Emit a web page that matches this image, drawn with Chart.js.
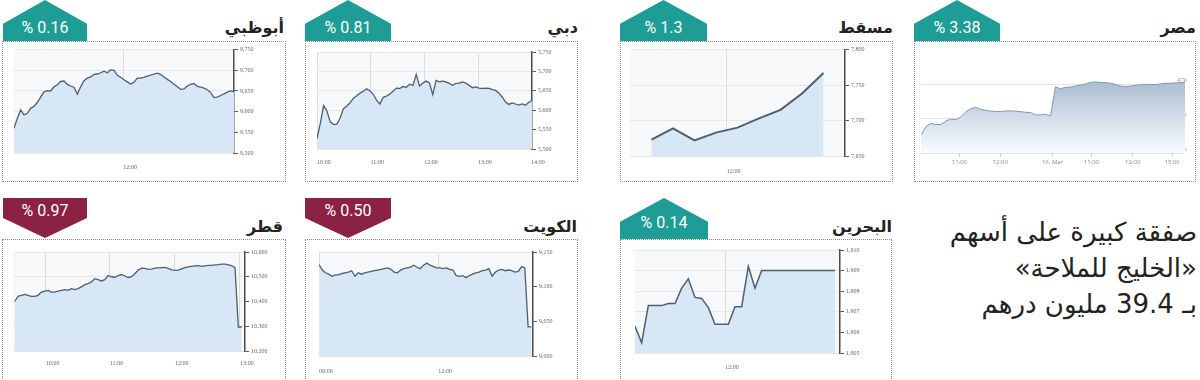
<!DOCTYPE html>
<html lang="ar">
<head>
<meta charset="UTF-8" />
<title>أسواق الخليج</title>
<script src="https://cdn.jsdelivr.net/npm/chart.js@4.4.1/dist/chart.umd.min.js"></script>
<style>
  body { margin: 0; width: 1200px; height: 380px; position: relative; overflow: hidden; background: #fff; font-family: "DejaVu Sans", sans-serif; }
  .box { position: absolute; border: 1px dotted #8a8a8a; box-sizing: border-box; }
  .badge { position: absolute; color: #fff; font-family: Roboto, sans-serif; font-size: 16px; }
  .badge span { position: absolute; left: 0; right: 0; text-align: center; line-height: 22px; }
  .up { background: #1d9d95; clip-path: polygon(0 58%, 50% 0, 100% 58%, 100% 100%, 0 100%); }
  .down { background: #8b2143; clip-path: polygon(0 0, 100% 0, 100% 50%, 50% 100%, 0 50%); }
  .title { position: absolute; font-weight: bold; font-size: 16px; line-height: 24px; color: #222; direction: rtl; }
  canvas { position: absolute; }
  .note { position: absolute; right: 3px; top: 214px; font-size: 26px; line-height: 36px; color: #222; direction: rtl; text-align: right; white-space: nowrap; }
</style>
</head>
<body>
  <!-- top row -->
  <div class="box" style="left:2px;top:41px;width:284px;height:141px"></div>
  <div class="badge up" style="left:3px;top:0;width:84px;height:41px"><span style="top:17px">% 0.16</span></div>
  <div class="title" style="right:916px;top:16px">أبوظبي</div>
  <canvas id="abuDhabi" width="276" height="136" style="left:4px;top:44px"></canvas>

  <div class="box" style="left:305px;top:41px;width:273px;height:141px"></div>
  <div class="badge up" style="left:305px;top:0;width:86px;height:41px"><span style="top:17px">% 0.81</span></div>
  <div class="title" style="right:622px;top:16px">دبي</div>
  <canvas id="dubai" width="268" height="130" style="left:307px;top:44px"></canvas>

  <div class="box" style="left:620px;top:41px;width:273px;height:141px"></div>
  <div class="badge up" style="left:620px;top:0;width:87px;height:41px"><span style="top:17px">% 1.3</span></div>
  <div class="title" style="right:307px;top:16px">مسقط</div>
  <canvas id="muscat" width="268" height="138" style="left:622px;top:44px"></canvas>

  <div class="box" style="left:914px;top:41px;width:282px;height:141px"></div>
  <div class="badge up" style="left:914px;top:0;width:86px;height:41px"><span style="top:17px">% 3.38</span></div>
  <div class="title" style="right:4px;top:16px">مصر</div>
  <canvas id="egypt" width="278" height="136" style="left:916px;top:44px"></canvas>

  <!-- bottom row -->
  <div class="box" style="left:2px;top:239px;width:284px;height:150px"></div>
  <div class="badge down" style="left:3px;top:198px;width:84px;height:40px"><span style="top:2px">% 0.97</span></div>
  <div class="title" style="right:917px;top:215px">قطر</div>
  <canvas id="qatar" width="278" height="134" style="left:4px;top:244px"></canvas>

  <div class="box" style="left:305px;top:239px;width:273px;height:150px"></div>
  <div class="badge down" style="left:305px;top:198px;width:86px;height:40px"><span style="top:2px">% 0.50</span></div>
  <div class="title" style="right:623px;top:215px">الكويت</div>
  <canvas id="kuwait" width="268" height="134" style="left:307px;top:244px"></canvas>

  <div class="box" style="left:620px;top:239px;width:272px;height:150px"></div>
  <div class="badge up" style="left:620px;top:198px;width:88px;height:41px"><span style="top:14px">% 0.14</span></div>
  <div class="title" style="right:308px;top:215px">البحرين</div>
  <canvas id="bahrain" width="268" height="134" style="left:622px;top:244px"></canvas>

  <div class="note">
    <div>صفقة كبيرة على أسهم</div>
    <div>«الخليج للملاحة»</div>
    <div>بـ 39.4 مليون درهم</div>
  </div>

<script>
  // index values
  const abuDhabiValues = [9560, 9584, 9604, 9592, 9596, 9608, 9613, 9622, 9635, 9648,
    9651, 9650, 9660, 9665, 9673, 9674, 9666, 9662, 9659, 9642,
    9660, 9675, 9681, 9684, 9690, 9691, 9694, 9698, 9694, 9701,
    9700, 9688, 9683, 9677, 9672, 9667, 9671, 9681, 9681, 9683,
    9686, 9688, 9691, 9693, 9690, 9684, 9678, 9673, 9666, 9660,
    9654, 9655, 9662, 9666, 9668, 9661, 9659, 9657, 9653, 9646,
    9634, 9635, 9639, 9643, 9647, 9650, 9648];
  const abuDhabiTicks = [9500, 9550, 9600, 9650, 9700, 9750];
  const abuDhabiTimes = ['12:00'];
  const abuDhabiTimeAt = [32.8];

  const dubaiValues = [5527, 5566, 5612, 5598, 5570, 5563, 5564, 5580, 5604, 5611,
    5619, 5631, 5637, 5644, 5649, 5655, 5650, 5641, 5626, 5616,
    5633, 5636, 5642, 5649, 5657, 5656, 5661, 5659, 5667, 5664,
    5692, 5662, 5670, 5675, 5670, 5640, 5677, 5673, 5675, 5673,
    5669, 5664, 5669, 5670, 5673, 5670, 5664, 5658, 5660, 5657,
    5656, 5657, 5656, 5653, 5651, 5644, 5634, 5621, 5615, 5619,
    5616, 5613, 5616, 5613, 5620, 5625];
  const dubaiTicks = [5500, 5550, 5600, 5650, 5700, 5750];
  const dubaiTimes = ['10:00', '11:00', '12:00', '13:00', '14:00'];
  const dubaiTimeAt = [0, 16.2, 32.4, 48.7, 64.7];

  const muscatValues = [7673, 7689, 7672, 7683, 7690, 7703, 7715, 7738, 7767];
  const muscatTicks = [7650, 7700, 7750, 7800];
  const muscatTimes = ['12:00'];
  const muscatTimeAt = [3.5];

  const egyptValues = [45531, 45770, 45860, 45830, 45830, 45930, 45990, 45970, 46050, 46200,
    46290, 46330, 46270, 46240, 46220, 46210, 46210, 46225, 46227, 46220,
    46205, 46185, 46180, 46110, 46110, 46130, 46080, 46930, 46870, 46913,
    46920, 46950, 46981, 47010, 47060, 47070, 47058, 47050, 47035, 47000,
    46950, 46935, 46950, 46968, 46985, 46995, 47000, 46992, 47010, 47029,
    47029, 47045, 47048, 47050];
  const egyptTicks = [45000, 46000, 47000];
  const egyptTimes = ['11:00', '12:00', '16. Mar', '11:00', '12:00', '13:00'];
  const egyptTimeAt = [7.7, 15.9, 26.4, 34.2, 42.5, 50.4];

  const qatarValues = [10400, 10421, 10425, 10429, 10425, 10421, 10421, 10425, 10438, 10442,
    10445, 10438, 10438, 10442, 10445, 10448, 10445, 10452, 10448, 10452,
    10459, 10468, 10472, 10479, 10492, 10488, 10483, 10488, 10505, 10500,
    10498, 10505, 10509, 10503, 10497, 10500, 10512, 10527, 10535, 10534,
    10530, 10531, 10535, 10536, 10537, 10538, 10534, 10528, 10526, 10527,
    10532, 10537, 10540, 10542, 10544, 10545, 10542, 10544, 10546, 10546,
    10548, 10549, 10551, 10551, 10548, 10545, 10537, 10297, 10297];
  const qatarTicks = [10200, 10300, 10400, 10500, 10600];
  const qatarTimes = ['10:00', '11:00', '12:00', '13:00'];
  const qatarTimeAt = [9.3, 28.5, 48, 67.5];

  const kuwaitValues = [9132, 9124, 9120, 9118, 9115, 9117, 9117, 9119, 9120, 9121,
    9123, 9115, 9120, 9118, 9120, 9121, 9122, 9123, 9124, 9125,
    9126, 9127, 9125, 9121, 9120, 9124, 9126, 9127, 9128, 9131,
    9128, 9126, 9131, 9134, 9131, 9129, 9127, 9127, 9126, 9127,
    9125, 9124, 9116, 9115, 9116, 9113, 9116, 9118, 9120, 9121,
    9123, 9124, 9126, 9115, 9121, 9124, 9125, 9123, 9124, 9123,
    9121, 9122, 9129, 9127, 9042, 9042];
  const kuwaitTicks = [9000, 9050, 9100, 9150];
  const kuwaitTimes = ['09:00', '12:00'];
  const kuwaitTimeAt = [0, 36.5];

  const bahrainValues = [1906.3, 1905.5, 1907.3, 1907.3, 1907.3, 1907.4, 1907.4, 1908.15, 1908.6, 1907.7,
    1907.65, 1907.2, 1906.4, 1906.4, 1906.4, 1907.25, 1907.25, 1909.2, 1908.15, 1909,
    1909, 1909, 1909, 1909, 1909, 1909, 1909, 1909, 1909, 1909, 1909];
  const bahrainTicks = [1905, 1906, 1907, 1908, 1909, 1910];
  const bahrainTimes = ['12:00'];
  const bahrainTimeAt = [13.5];

  // paint the plot area behind the lines
  const plotBg = {
    id: 'plotBg',
    beforeDraw(chart, args, opts) {
      const a = chart.chartArea;
      chart.ctx.save();
      chart.ctx.fillStyle = opts.color;
      chart.ctx.fillRect(a.left, a.top, a.width, a.height);
      chart.ctx.restore();
    }
  };

  const serif = { family: 'Liberation Serif', size: 6 };

  function drawMarket(id, c) {
    new Chart(document.getElementById(id), {
      type: 'line',
      data: {
        datasets: [{
          data: c.values.map((v, i) => ({ x: i, y: v })),
          borderColor: '#4f5f6f',
          borderWidth: c.lineWidth || 1.3,
          backgroundColor: '#d8e7f5',
          fill: 'start',
          pointRadius: 0,
          tension: 0
        }]
      },
      options: {
        responsive: false,
        animation: false,
        events: [],
        layout: { padding: { left: c.pad[0], top: c.pad[1], right: 0, bottom: 0 } },
        plugins: { legend: { display: false }, tooltip: { enabled: false }, plotBg: { color: '#f7f8f9' } },
        scales: {
          x: {
            type: 'linear', min: c.xMin, max: c.xMax,
            afterBuildTicks: s => { s.ticks = c.timeAt.map(v => ({ value: v })); },
            afterFit: s => { s.height = c.axis[1]; },
            border: { display: false },
            grid: { color: '#dcdcdc', drawTicks: false },
            ticks: { callback: (v, i) => c.times[i], align: 'start', autoSkip: false, maxRotation: 0,
              padding: c.xPad, font: serif, color: '#666' }
          },
          y: {
            position: 'right', min: c.yTicks[0], max: c.yTicks[c.yTicks.length - 1],
            afterBuildTicks: s => { s.ticks = c.yTicks.map(v => ({ value: v })); },
            afterFit: s => { s.width = c.axis[0]; },
            border: { color: '#4a4a4a', width: 1.5 },
            grid: { color: '#e6e6e6', tickColor: '#555', tickLength: 4 },
            ticks: { callback: v => v.toLocaleString('en-US'), padding: 2, font: serif, color: '#666' }
          }
        }
      },
      plugins: [plotBg]
    });
  }

  drawMarket('abuDhabi', { values: abuDhabiValues, yTicks: abuDhabiTicks, times: abuDhabiTimes, timeAt: abuDhabiTimeAt,
    xMin: 0, xMax: 66, pad: [10, 5], axis: [46, 27], xPad: 11 });
  drawMarket('dubai', { values: dubaiValues, yTicks: dubaiTicks, times: dubaiTimes, timeAt: dubaiTimeAt,
    xMin: 0, xMax: 65, pad: [9, 8], axis: [43, 25], xPad: 10 });
  drawMarket('muscat', { values: muscatValues, yTicks: muscatTicks, times: muscatTimes, timeAt: muscatTimeAt,
    xMin: -1, xMax: 9, pad: [8, 5], axis: [45, 26], xPad: 12, lineWidth: 2 });
  drawMarket('qatar', { values: qatarValues, yTicks: qatarTicks, times: qatarTimes, timeAt: qatarTimeAt,
    xMin: -0.5, xMax: 69, pad: [9, 8], axis: [37, 27], xPad: 9 });
  drawMarket('kuwait', { values: kuwaitValues, yTicks: kuwaitTicks, times: kuwaitTimes, timeAt: kuwaitTimeAt,
    xMin: 0, xMax: 65.5, pad: [8, 8], axis: [42, 22], xPad: 12 });
  drawMarket('bahrain', { values: bahrainValues, yTicks: bahrainTicks, times: bahrainTimes, timeAt: bahrainTimeAt,
    xMin: 0, xMax: 30.75, pad: [13, 6], axis: [50, 25], xPad: 11, lineWidth: 1.5 });

  // Egypt uses a different look: gradient area, labels inside the plot
  const sans = { family: 'Open Sans', size: 6 };
  new Chart(document.getElementById('egypt'), {
    type: 'line',
    data: {
      datasets: [{
        data: egyptValues.map((v, i) => ({ x: i, y: v })),
        borderColor: '#8198b1',
        borderWidth: 1,
        backgroundColor: ctx => {
          const a = ctx.chart.chartArea;
          if (!a) return 'rgba(0,0,0,0)';
          const g = ctx.chart.ctx.createLinearGradient(0, a.top, 0, a.bottom);
          g.addColorStop(0, '#86a2bf');
          g.addColorStop(1, '#fafcfe');
          return g;
        },
        fill: 'start',
        pointRadius: 0,
        tension: 0
      }]
    },
    options: {
      responsive: false,
      animation: false,
      events: [],
      layout: { padding: { left: 5, top: 6, right: 0, bottom: 0 } },
      plugins: { legend: { display: false }, tooltip: { enabled: false } },
      scales: {
        x: {
          type: 'linear', min: 0, max: 53,
          afterBuildTicks: s => { s.ticks = egyptTimeAt.map(v => ({ value: v })); },
          afterFit: s => { s.height = 27; },
          border: { display: false },
          grid: { drawOnChartArea: false, tickColor: '#cfcfcf', tickLength: 4 },
          ticks: { callback: (v, i) => egyptTimes[i], autoSkip: false, maxRotation: 0, padding: 2, font: sans, color: '#888' }
        },
        y: {
          position: 'right', min: 45000, max: 48000, z: 1,
          afterBuildTicks: s => { s.ticks = egyptTicks.map(v => ({ value: v })); },
          afterFit: s => { s.width = 9; },
          border: { display: false },
          grid: { color: 'rgba(200,205,212,0.6)', drawTicks: false },
          ticks: { mirror: true, callback: v => (v / 1000) + 'k', padding: 2, labelOffset: -4, font: sans, color: '#999' }
        }
      }
    }
  });
</script>
</body>
</html>
